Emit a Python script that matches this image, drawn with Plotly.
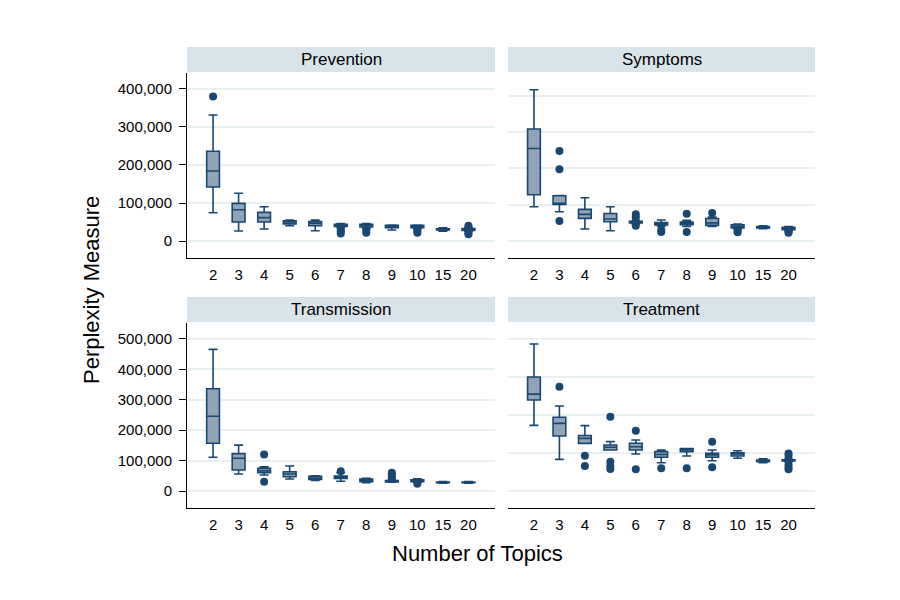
import plotly.graph_objects as go

topics = ["2", "3", "4", "5", "6", "7", "8", "9", "10", "15", "20"]
panels = ["Prevention", "Symptoms", "Transmission", "Treatment"]

# Prevention
prev_lo = [74500, 26300, 31600, 40000, 27000, 36000, 33000, 29000, 32000, 26000, 25000]
prev_q1 = [142000, 50000, 50000, 45000, 40000, 38000, 37000, 35000, 35000, 29000, 28000]
prev_med = [184000, 82400, 61400, 50000, 46000, 41000, 42000, 38000, 38000, 31000, 30000]
prev_q3 = [236000, 99000, 75400, 53000, 51000, 44000, 44000, 41000, 41000, 32000, 33000]
prev_hi = [331600, 125500, 90300, 55000, 55000, 46000, 46000, 42000, 42000, 35000, 36000]
prev_out_x = ["2", "7", "7", "7", "8", "8", "10", "10", "20", "20", "20"]
prev_out_y = [380000, 30000, 25000, 20000, 28000, 22000, 27000, 22000, 40000, 21000, 18000]

# Symptoms
symp_lo = [94500, 80700, 33000, 28400, 47000, 40000, 40000, 40000, 33000, 34000, 29000]
symp_q1 = [127500, 101000, 62500, 53000, 50000, 44000, 45000, 43000, 36000, 36000, 31000]
symp_med = [255000, 104000, 73500, 60600, 52000, 47000, 48000, 50000, 40000, 38000, 34000]
symp_q3 = [308500, 124800, 87300, 76000, 54000, 51000, 52000, 62000, 45000, 40000, 38000]
symp_hi = [416800, 125000, 119300, 94500, 56000, 58000, 57000, 66000, 47000, 42000, 40000]
symp_out_x = ["3", "3", "3", "6", "6", "6", "7", "7", "8", "8", "9", "10", "10", "20", "20"]
symp_out_y = [248000, 197500, 55000, 74000, 64000, 42000, 30000, 25000, 75000, 25000, 77000, 28000, 24000, 26000, 23000]

# Transmission
tran_lo = [111000, 56000, 52600, 39500, 35000, 32000, 27000, 29000, 28000, 26000, 25500]
tran_q1 = [157000, 69000, 60300, 47000, 38000, 41000, 31000, 30000, 31000, 27500, 27000]
tran_med = [245700, 107500, 67000, 56000, 42000, 45000, 35000, 32000, 34000, 28500, 28000]
tran_q3 = [336500, 122800, 74600, 63500, 48000, 49000, 39000, 34000, 37000, 29500, 29500]
tran_hi = [466000, 151000, 80000, 82000, 50000, 60000, 42000, 36000, 40000, 31000, 31000]
tran_out_x = ["4", "4", "7", "9", "9", "9", "9", "10"]
tran_out_y = [120000, 30600, 65000, 42000, 48000, 54000, 60000, 24000]

# Treatment
trea_lo = [172800, 83300, 125400, 108000, 97400, 74500, 92000, 79800, 86000, 74500, 77000]
trea_q1 = [239500, 144700, 125400, 108000, 108000, 88700, 103500, 88700, 92000, 77000, 79000]
trea_med = [255000, 178000, 138600, 115000, 116600, 96000, 109000, 94700, 97400, 79500, 80000]
trea_q3 = [300000, 193900, 146000, 121000, 125500, 103500, 112000, 99000, 100800, 81600, 82000]
trea_hi = [386800, 223700, 172000, 129800, 134200, 108000, 112000, 108000, 106000, 85000, 84000]
trea_out_x = ["3", "4", "4", "5", "5", "5", "5", "6", "6", "7", "8", "9", "9", "20", "20", "20", "20", "20"]
trea_out_y = [274500, 93000, 65800, 195600, 77000, 65800, 58000, 158700, 57000, 59600, 59600, 129800, 62400, 99000, 92000, 70000, 63000, 57000]

NAVY = "#1a476f"
FILL = "#90a4b9"
GRID = "#e8f0f2"
STRIP = "#d9e4ea"
FONT = "Liberation Sans, Arial, sans-serif"

pos = {t: i for i, t in enumerate(topics)}
xs = list(range(len(topics)))

data = [
    (prev_lo, prev_q1, prev_med, prev_q3, prev_hi, prev_out_x, prev_out_y),
    (symp_lo, symp_q1, symp_med, symp_q3, symp_hi, symp_out_x, symp_out_y),
    (tran_lo, tran_q1, tran_med, tran_q3, tran_hi, tran_out_x, tran_out_y),
    (trea_lo, trea_q1, trea_med, trea_q3, trea_hi, trea_out_x, trea_out_y),
]

W, H = 900, 600
OFF = 8  # page body margin


def px(v, total):
    return (v - OFF) / total


def py(v):
    return 1 - (v - OFF) / H


xdom = [(px(187, W), px(495, W)), (px(508, W), px(815, W)),
        (px(187, W), px(495, W)), (px(508, W), px(815, W))]
ydom = [(py(258), py(73)), (py(258), py(73)), (py(508), py(323)), (py(508), py(323))]
yranges = [(-44700, 442000), (-46800, 463000), (-55900, 552600), (-44700, 442000)]
ytickvals = [[0, 100000, 200000, 300000, 400000],
             [0, 100000, 200000, 300000, 400000],
             [0, 100000, 200000, 300000, 400000, 500000],
             [0, 100000, 200000, 300000, 400000]]
strip_px = [(47, 72), (47, 72), (297, 322), (297, 322)]

fig = go.Figure()
layout = dict(
    width=W, height=H, margin=dict(l=0, r=0, t=0, b=0),
    paper_bgcolor="white", plot_bgcolor="white", showlegend=False,
    font=dict(family=FONT, color="black", size=15),
)
shapes = []
annotations = []

for i, (lo, q1, med, q3, hi, ox, oy) in enumerate(data):
    n = "" if i == 0 else str(i + 1)
    xa, ya = "x" + n, "y" + n
    fig.add_trace(go.Box(
        x=xs, q1=q1, median=med, q3=q3, lowerfence=lo, upperfence=hi,
        xaxis=xa, yaxis=ya, width=0.5, whiskerwidth=0.7,
        fillcolor=FILL, line=dict(color=NAVY, width=1.6),
        boxpoints=False, hoverinfo="skip",
    ))
    fig.add_trace(go.Scatter(
        x=[pos[v] for v in ox], y=oy, xaxis=xa, yaxis=ya, mode="markers",
        marker=dict(color=NAVY, size=8, line=dict(width=0)), hoverinfo="skip",
    ))
    left = i in (0, 2)
    layout["xaxis" + n] = dict(
        domain=list(xdom[i]), anchor=ya, range=[-1.02, 11.04],
        tickmode="array", tickvals=xs, ticktext=topics, showgrid=False,
        zeroline=False, showline=True, linecolor="black", linewidth=1,
        ticks="", ticklabelstandoff=3,
        tickfont=dict(size=15, family=FONT), fixedrange=True,
    )
    layout["yaxis" + n] = dict(
        domain=list(ydom[i]), anchor=xa, range=list(yranges[i]),
        tickmode="array", tickvals=ytickvals[i],
        ticktext=[f"{v:,}" for v in ytickvals[i]] if left else [""] * len(ytickvals[i]),
        showticklabels=left, showgrid=True, gridcolor=GRID, gridwidth=1.5,
        zeroline=False, showline=left, linecolor="black", linewidth=1,
        ticks="outside" if left else "", ticklen=7, tickcolor="black",
        ticklabelstandoff=4,
        tickfont=dict(size=15, family=FONT), fixedrange=True,
    )
    t, b = strip_px[i]
    shapes.append(dict(type="rect", xref="paper", yref="paper",
                       x0=xdom[i][0], x1=xdom[i][1], y0=py(b), y1=py(t),
                       fillcolor=STRIP, line=dict(width=0), layer="below"))
    annotations.append(dict(text=panels[i], xref="paper", yref="paper",
                            x=(xdom[i][0] + xdom[i][1]) / 2, y=py((t + b) / 2),
                            showarrow=False, font=dict(size=17, family=FONT),
                            xanchor="center", yanchor="middle"))

annotations.append(dict(text="Perplexity Measure", xref="paper", yref="paper",
                        x=px(91, W), y=py(290), textangle=-90, showarrow=False,
                        font=dict(size=22, family=FONT), xanchor="center", yanchor="middle"))
annotations.append(dict(text="Number of Topics", xref="paper", yref="paper",
                        x=px(477, W), y=py(553), showarrow=False,
                        font=dict(size=22, family=FONT), xanchor="center", yanchor="middle"))

layout["shapes"] = shapes
layout["annotations"] = annotations
fig.update_layout(**layout)
fig.write_html("out.html")
